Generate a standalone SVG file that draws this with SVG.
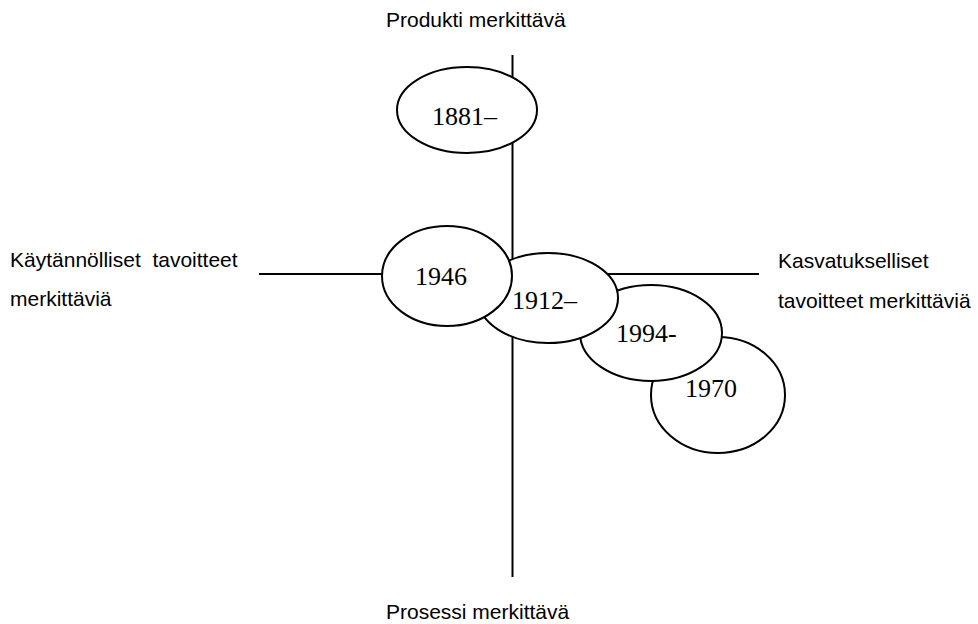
<svg xmlns="http://www.w3.org/2000/svg" width="978" height="624" viewBox="0 0 978 624">
<style>
.ax{stroke:#000;stroke-width:2;fill:none}
.el{fill:#fff;stroke:#000;stroke-width:2}
.yr{font-family:"Liberation Serif","DejaVu Serif",serif;font-size:26px;fill:#000}
.lb{font-family:"Liberation Sans",Arial,sans-serif;font-size:21px;fill:#000}
</style>
<rect width="978" height="624" fill="#fff"/>
<g id="connectors">
<line class="ax" x1="512.5" y1="55" x2="512.5" y2="577"/>
<line class="ax" x1="259" y1="274" x2="759" y2="274"/>
</g>
<g id="labels">
<text class="lb" x="386" y="27">Produkti merkittävä</text>
<text class="lb" x="386" y="619">Prosessi merkittävä</text>
<text class="lb" x="10" y="267" xml:space="preserve">Käytännölliset  tavoitteet</text>
<text class="lb" x="10" y="306">merkittäviä</text>
<text class="lb" x="778" y="268">Kasvatukselliset</text>
<text class="lb" x="778" y="308">tavoitteet merkittäviä</text>
</g>
<g id="n1881">
<ellipse class="el" cx="467" cy="110" rx="70" ry="43"/>
<text class="yr" x="432" y="125">1881–</text>
</g>
<g id="n1970">
<ellipse class="el" cx="718" cy="395" rx="67" ry="58"/>
<text class="yr" x="685" y="397">1970</text>
</g>
<g id="n1994">
<ellipse class="el" cx="651" cy="333" rx="71" ry="48"/>
<text class="yr" x="616" y="342">1994-</text>
</g>
<g id="n1912">
<ellipse class="el" cx="548" cy="298" rx="70" ry="45"/>
<text class="yr" x="512" y="309">1912–</text>
</g>
<g id="n1946">
<ellipse class="el" cx="447" cy="276" rx="65" ry="50"/>
<text class="yr" x="415" y="285">1946</text>
</g>
</svg>
